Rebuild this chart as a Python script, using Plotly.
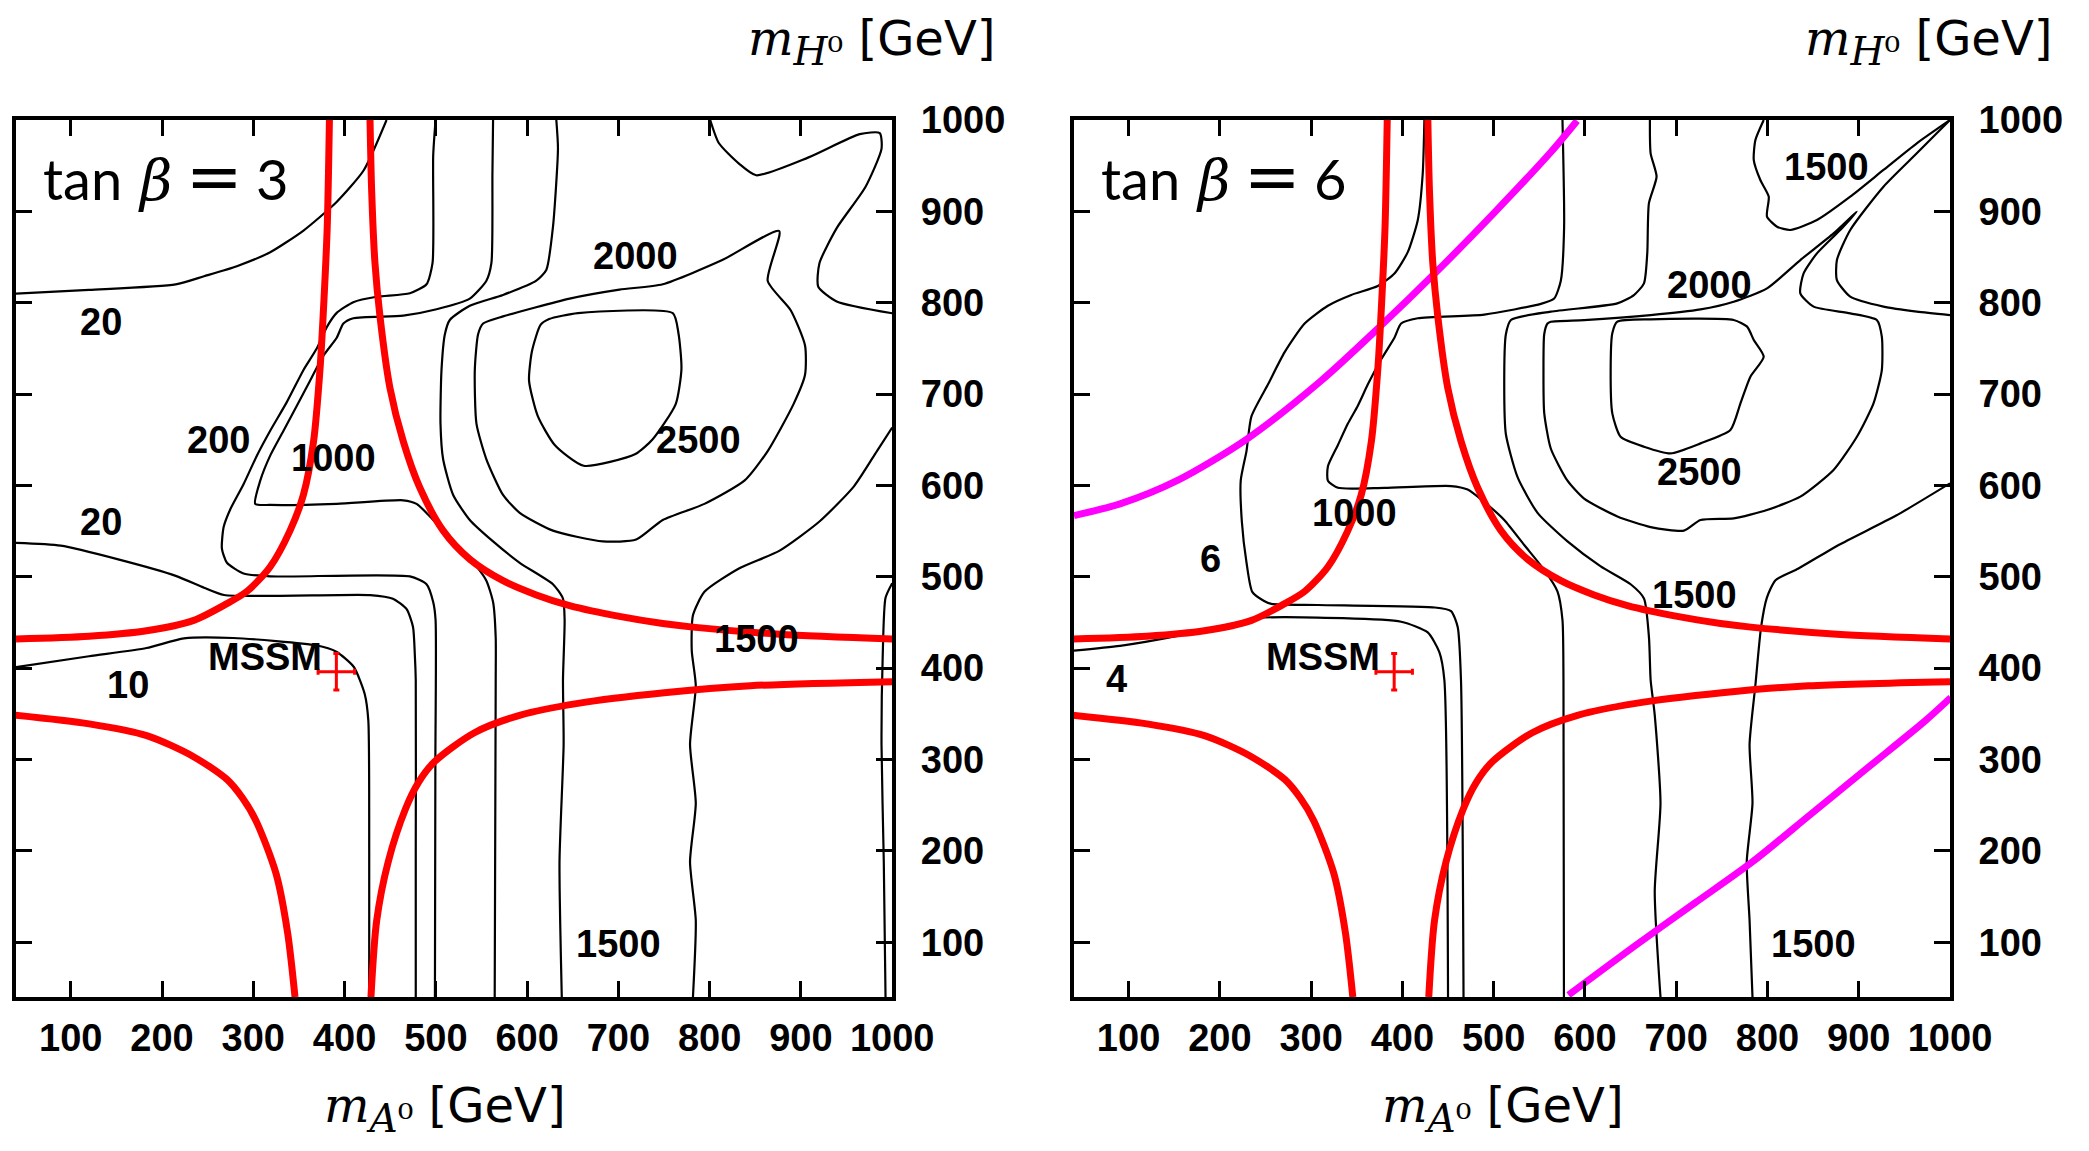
import plotly.graph_objects as go

# ---------------- data (GeV) ----------------
tick_vals = [100, 200, 300, 400, 500, 600, 700, 800, 900, 1000]
tick_text = [str(v) for v in tick_vals]
axis_range = [40, 1000]

# red curves (same in both panels)
red1_x = [40, 120, 183, 234, 270, 293, 318.5, 340, 355, 366, 373, 377.5, 381, 383.4]
red1_y = [432, 435, 441, 452, 470, 484, 511, 550, 590, 648, 726, 804.5, 883, 1000]
red2_x = [427.9, 429.7, 433.3, 438.8, 449.7, 464.3, 482.5, 508, 537.2, 573.6, 610.1, 646.6, 701.2, 748.6, 781.7, 876.2, 1000]
red2_y = [1000, 921.8, 843.6, 785, 706.8, 648.2, 597.4, 550.5, 519.2, 495.7, 480.1, 468.4, 456.6, 448.8, 444.9, 437.2, 432]
red3_x = [38.3, 120.2, 183.2, 233.6, 271.4, 288, 302.9, 324.9, 337.5, 345.7]
red3_y = [348.6, 339, 326.1, 303.6, 277.9, 258, 233, 175.1, 110.9, 40]
red4_x = [428.9, 435.2, 447.8, 466.7, 481, 498.2, 542.3, 592.7, 655.7, 750.2, 844.7, 1000]
red4_y = [40, 123.8, 188, 245.8, 275, 297.2, 329.3, 348.6, 361.4, 373, 380.7, 385.2]

# magenta curves (tan beta = 6 only)
mag1_x = [40.2, 90.6, 153.6, 229.2, 311.1, 374, 437, 500, 563, 591.4]
mag1_y = [567, 579.8, 605.5, 650.5, 714.7, 772.5, 833.5, 897.8, 965.2, 999.2]
mag2_x = [582, 657.6, 720.6, 783.6, 846.6, 909.6, 972.6, 1000.9]
mag2_y = [42.2, 98, 143, 188, 239.4, 290.8, 342.1, 367.8]

# MSSM point
mssm_x = [391]
mssm_y = [396]
mssm_err = 20

# ---- tan beta = 3 contours ----
t3_c20a_x = [40, 120, 215, 246, 282, 318, 355, 391, 421, 446]
t3_c20a_y = [810, 814, 820, 829, 840, 855, 879, 910, 945, 1000]
t3_c20b_x = [40, 89, 152, 215, 246, 268, 428, 453, 468, 475, 477, 478, 478, 478]
t3_c20b_y = [537, 534, 519, 501, 488, 480, 480, 476, 464.5, 445, 414, 387, 200, 40]
t3_c10_x = [40, 120, 183, 224, 278, 369, 391, 410, 422, 426, 427, 427]
t3_c10_y = [401, 413, 422, 432.6, 433, 425, 418, 401.5, 372, 343, 200, 40]
t3_c200_x = [499.7, 497.1, 496.4, 489.8, 471.6, 435.1, 409.6, 391.4, 380.5, 369.5, 355, 336.7, 318.5, 303.9,
             289.3, 274.8, 267.5, 265.6, 271.1, 289.3, 318.5, 471.6, 489.8, 497.1, 499.7, 499.5, 499]
t3_c200_y = [1000, 960.9, 843.6, 820.2, 810.4, 806.5, 800.6, 788.9, 773.3, 749.8, 726.4, 691.2, 659.9, 632.6,
             601.3, 573.9, 554.4, 530.9, 515.3, 503.6, 500.4, 500.4, 491.8, 472.3, 452.7, 300, 40]
t3_c1000_x = [562.7, 562, 560.9, 555.4, 537.2, 500.8, 464.3, 409.6, 398.7, 391.4, 376.8, 362.2, 347.7, 333.1,
              318.5, 307.6, 302.1, 318.5, 391.4, 464.3, 478.9, 493.5, 508, 526.3, 544.5, 555.4, 562.7, 565.6,
              565.6, 564.5]
t3_c1000_y = [1000, 941.4, 843.6, 824.1, 804.5, 792.8, 785.8, 783, 777.2, 761.6, 742, 714.6, 687.3, 659.9,
              632.6, 605.2, 579.8, 578.6, 579.8, 583.7, 579.8, 566.1, 550.5, 530.9, 511.4, 495.7, 472.3, 433.2,
              387, 40]
t3_c1500a_x = [632, 633.8, 628.3, 621, 610.1, 573.6, 537.2, 515.3, 509.9, 506.2, 505.1, 508, 519, 537.2, 562.7,
               591.9, 628.3, 639.3, 641.1, 639.3, 640, 635.5, 638]
t3_c1500a_y = [1000, 968.7, 882.7, 835.8, 824.1, 808.5, 796.7, 781.1, 765.5, 726.4, 667.7, 628.6, 589.6, 562.2,
               538.7, 515.3, 491.8, 476.2, 452.7, 387, 316.5, 188, 40]
t3_c1500b_x = [781.7, 784.8, 778.5, 784.8, 778.5, 784.8, 780.4, 781.7, 794.3, 832.1, 876.2, 920.3, 958.1, 983.3, 1000]
t3_c1500b_y = [40, 123.8, 188, 252.2, 316.5, 380.7, 419.2, 457.8, 483.5, 509.1, 528.4, 560.5, 599, 637.6, 663.3]
t3_c1500c_x = [800.6, 810, 832.1, 851, 907.7, 964.4, 986.4, 988.3, 970.7, 939.2, 920.3, 919, 939.2, 1000]
t3_c1500c_y = [1000, 974.8, 952.3, 939.5, 958.8, 984.5, 985.7, 968.4, 926.7, 881.7, 843.2, 817.5, 801.4, 788.5]
t3_c1500d_x = [1000, 992.7, 989.6, 988.3, 990.8, 992.7]
t3_c1500d_y = [493, 477, 412.8, 316.5, 188, 40]
t3_c2000_x = [551.8, 573.6, 646.6, 701.2, 748.6, 813.2, 876.2, 863.6, 888.8, 904.5, 904.5, 891.9, 863.6, 838.4,
              794.3, 748.6, 719.5, 683, 628.3, 591.9, 573.6, 555.4, 544.5, 542.7, 546.3, 551.8]
t3_c2000_y = [777.2, 785, 804.5, 814.3, 820.2, 846.4, 878.5, 823.9, 791.8, 753.2, 721.1, 689, 637.6, 605.5,
              579.8, 562.2, 540.7, 538.7, 550.5, 570, 589.6, 628.6, 667.7, 726.4, 765.5, 777.2]
t3_c2500_x = [624.2, 655.7, 759.6, 765.9, 769.1, 762.8, 737.6, 718.7, 662, 630.5, 611.6, 602.1, 605.3, 614.7, 624.2]
t3_c2500_y = [782.1, 788.5, 788.5, 766.1, 727.5, 689, 650.5, 634.4, 621.5, 644, 676.1, 714.7, 746.8, 775.7, 782.1]

t3_label_text = ["20", "20", "200", "1000", "2000", "2500", "1500", "1500", "10"]
t3_label_x = [133, 133, 262, 388, 719, 788, 851, 700, 163]
t3_label_y = [779, 560, 650, 630, 851, 650, 432, 98, 381]

# ---- tan beta = 6 contours ----
t6_c6_x = [424.1, 422.3, 416.9, 405.9, 391.3, 373.1, 344, 318.4, 292.9, 271, 252.8, 234.6, 229.2, 222.9, 224.1,
           229.2, 235.5, 248, 256.5, 307.5, 435, 453.3, 460.6, 464.2, 467]
t6_c6_y = [1000, 941.4, 890.6, 855.4, 831.9, 818.2, 808.5, 796.7, 777.2, 745.9, 710.7, 675.6, 637.6, 605.5, 560.5,
           515.6, 483.5, 473.8, 470.3, 469.1, 466.4, 462.5, 444.9, 387, 40]
t6_c4_x = [40, 90.6, 153.6, 216.6, 241.9, 271, 398.6, 427.8, 440.5, 446, 450]
t6_c4_y = [419.2, 424.4, 435.3, 449.4, 454.7, 455.9, 450.8, 439.1, 417.6, 387, 40]
t6_c1000_x = [575.4, 577.2, 573.6, 566.3, 551.7, 489.8, 416.9, 398.6, 391.3, 376.8, 362.2, 351.2, 340.3, 329.4,
              318.4, 318.4, 329.4, 380.4, 453.3, 471.5, 489.8, 511.6, 533.5, 555.4, 569.9, 575.4, 576.5, 577]
t6_c1000_y = [1000, 882.7, 824.1, 804.5, 798.7, 787, 783, 777.2, 761.6, 738.1, 710.7, 687.3, 667.7, 644.3,
              620.8, 605.2, 597.4, 597.4, 599.3, 595.4, 581.7, 562.2, 534.8, 507.5, 484, 452.7, 387, 40]
t6_c1500a_x = [671.2, 672, 678.5, 670.1, 668.3, 664.7, 653.7, 635.5, 562.6, 518.9, 513.4, 511.6, 513.4, 526.2,
               548.1, 580.9, 617.3, 650.1, 664.7, 670.2, 672, 676.5, 682.8, 676.5, 682.8]
t6_c1500a_y = [1000, 963.5, 938, 908.8, 854, 821.2, 808.4, 799.3, 790.2, 781.1, 765.5, 706.8, 656, 609.1,
               570, 538.7, 511.4, 491.8, 476.2, 433.2, 387, 348.6, 252.2, 155.9, 40]
t6_c1500b_x = [1000, 941, 878, 834, 808.8, 799.3, 793, 786.7, 780.4, 783.6, 777.3, 780.4, 783.6]
t6_c1500b_y = [602.3, 567, 534.8, 509.1, 496.3, 477, 444.9, 380.7, 316.5, 252.2, 188, 123.8, 40]
t6_c1500c_x = [795.9, 786.8, 785, 792.2, 801.4, 799.5, 810.5, 825.1, 854.2, 890.7, 927.1, 963.6, 1000]
t6_c1500c_y = [1000, 978.1, 956.2, 934.3, 916.1, 894.2, 883.2, 879.6, 890.5, 916.1, 945.3, 974.5, 1000]
t6_c1500d_x = [1000, 963.6, 927.1, 890.7, 876.1, 876.1, 890.7, 927.1, 963.6, 1000]
t6_c1500d_y = [1000, 963.5, 927, 879.6, 846.7, 824.8, 806.6, 795.7, 790.2, 786.5]
t6_c2000_x = [562.6, 599.1, 672, 726.6, 763, 799.5, 836, 872.4, 897.9, 879.7, 854.2, 839.6, 836, 850.6, 890.7,
              919.8, 925.3, 925.3, 916.2, 898, 872.4, 836, 799.5, 763, 726.6, 708.5, 672, 635.6, 599.1, 580.9,
              562.6, 555.4, 554.6, 555.4, 559, 562.6]
t6_c2000_y = [779.2, 781, 786.5, 792.7, 801.1, 815.7, 846.7, 875.9, 899.7, 879.6, 854, 832.1, 810.3, 795.7, 788.4,
              781.1, 762.8, 726.3, 689.8, 653.3, 616.9, 587.7, 573.1, 563.9, 562.1, 550.5, 554.4, 566.1, 585.6, 605.2,
              640.4, 679.5, 726.4, 765.5, 777.2, 779.2]
t6_c2500_x = [635.5, 672, 763, 777.7, 785, 795.9, 781.3, 770.4, 759.4, 726.6, 693.8, 664.7, 639.1, 630, 628.2, 630, 635.5]
t6_c2500_y = [779.2, 781.8, 781.1, 773.8, 759.2, 740.9, 719, 689.8, 660.6, 646, 635.1, 642.4, 653.3, 678.9, 726.3, 766.5, 779.2]

t6_label_text = ["1500", "2000", "2500", "1000", "6", "4", "1500", "1500"]
t6_label_x = [865, 737, 726, 347, 190, 87, 720, 850]
t6_label_y = [949, 819, 615, 570, 519, 388, 480, 98]

panel_titles = ["3", "6"]

# ---------------- figure ----------------
# the page body has an 8 px margin; the figure is sized/offset to compensate
W, H = 2073, 1135
fig = go.Figure()

BLACK_W = 2.2
RED_W = 7


def add_line(xs, ys, ax, color="black", width=BLACK_W, smooth=0.6):
    fig.add_trace(go.Scatter(
        x=xs, y=ys, mode="lines", xaxis="x" + ax, yaxis="y" + ax,
        line=dict(color=color, width=width, shape="spline", smoothing=smooth),
        showlegend=False, hoverinfo="skip"))


t3_contours = [(t3_c20a_x, t3_c20a_y), (t3_c20b_x, t3_c20b_y), (t3_c10_x, t3_c10_y),
               (t3_c200_x, t3_c200_y), (t3_c1000_x, t3_c1000_y), (t3_c1500a_x, t3_c1500a_y),
               (t3_c1500b_x, t3_c1500b_y), (t3_c1500c_x, t3_c1500c_y), (t3_c1500d_x, t3_c1500d_y),
               (t3_c2000_x, t3_c2000_y), (t3_c2500_x, t3_c2500_y)]
t6_contours = [(t6_c6_x, t6_c6_y), (t6_c4_x, t6_c4_y), (t6_c1000_x, t6_c1000_y),
               (t6_c1500a_x, t6_c1500a_y), (t6_c1500b_x, t6_c1500b_y), (t6_c1500c_x, t6_c1500c_y),
               (t6_c1500d_x, t6_c1500d_y), (t6_c2000_x, t6_c2000_y), (t6_c2500_x, t6_c2500_y)]
reds = [(red1_x, red1_y), (red2_x, red2_y), (red3_x, red3_y), (red4_x, red4_y)]
mags = [(mag1_x, mag1_y), (mag2_x, mag2_y)]

for ax, contours in (("", t3_contours), ("2", t6_contours)):
    for xs, ys in contours:
        add_line(xs, ys, ax)
    if ax == "2":
        for xs, ys in mags:
            add_line(xs, ys, ax, color="#ff00ff", width=RED_W, smooth=0.8)
    for xs, ys in reds:
        add_line(xs, ys, ax, color="#ff0000", width=RED_W, smooth=0.8)
    fig.add_trace(go.Scatter(
        x=mssm_x, y=mssm_y, mode="markers", xaxis="x" + ax, yaxis="y" + ax,
        marker=dict(size=1, color="#ff0000"),
        error_x=dict(type="constant", value=mssm_err, color="#ff0000", thickness=3, width=3),
        error_y=dict(type="constant", value=mssm_err, color="#ff0000", thickness=3, width=3),
        showlegend=False, hoverinfo="skip"))

LBL_FONT = dict(family="Liberation Sans, Arial, sans-serif", size=38, color="black", weight="bold")
annotations = []
for ax, texts, xs, ys in (("", t3_label_text, t3_label_x, t3_label_y),
                          ("2", t6_label_text, t6_label_x, t6_label_y)):
    for t, x, y in zip(texts, xs, ys):
        annotations.append(dict(text=t, x=x, y=y, xref="x" + ax, yref="y" + ax,
                                showarrow=False, font=LBL_FONT))
    annotations.append(dict(text="MSSM", x=378, y=412, xref="x" + ax, yref="y" + ax,
                            xanchor="right", showarrow=False, font=LBL_FONT))

SANS = 'font-family:DejaVu Sans'
GAP = '<span style="font-size:42px"> </span>'
for ax, tb in (("", panel_titles[0]), ("2", panel_titles[1])):
    annotations.append(dict(
        text='<span style="font-family:Lato">tan</span> <i>β</i>' + GAP + '<span style="' + SANS
             + ';font-size:68px">=</span>' + GAP + '<span style="font-family:Lato">' + tb + '</span>',
        x=0.029, y=0.936, xref="x" + ax + " domain", yref="y" + ax + " domain",
        xanchor="left", yanchor="middle", showarrow=False,
        font=dict(family="DejaVu Serif, serif", size=56, color="black")))
    for lbl, xx, yy in (("H", 0.976, 1.089), ("A", 0.49, -0.128)):
        annotations.append(dict(
            text='<i>m</i><sub><span style="font-size:39px"><i>' + lbl
                 + '</i>⁰</span></sub><span style="' + SANS + ';font-size:48px"> [GeV]</span>',
            x=xx, y=yy, xref="x" + ax + " domain", yref="paper",
            xanchor="center", yanchor="middle", showarrow=False,
            font=dict(family="DejaVu Serif, serif", size=48, color="black")))

TICK_FONT = dict(family="Liberation Sans, Arial, sans-serif", size=38, color="black", weight="bold")
common = dict(range=axis_range, tickvals=tick_vals, ticktext=tick_text, ticks="inside",
              ticklen=16, tickwidth=3, tickcolor="black", showline=True, linecolor="black",
              linewidth=4, mirror="allticks", showgrid=False, zeroline=False,
              tickfont=TICK_FONT)

L, T = 4, 112
PW, PH = 1938, 877
R = W - L - PW
B = H - T - PH
d1 = [0, 878 / PW]
d2 = [(1072 - 12) / PW, 1]

fig.update_layout(
    width=W, height=H, margin=dict(l=L, r=R, t=T, b=B),
    paper_bgcolor="white", plot_bgcolor="white",
    xaxis=dict(domain=d1, anchor="y", ticklabelstandoff=4, **common),
    yaxis=dict(domain=[0, 1], anchor="x", side="right", ticklabelstandoff=17, **common),
    xaxis2=dict(domain=d2, anchor="y2", ticklabelstandoff=4, **common),
    yaxis2=dict(domain=[0, 1], anchor="x2", side="right", ticklabelstandoff=17, **common),
    annotations=annotations,
)

fig.write_html("out.html")
